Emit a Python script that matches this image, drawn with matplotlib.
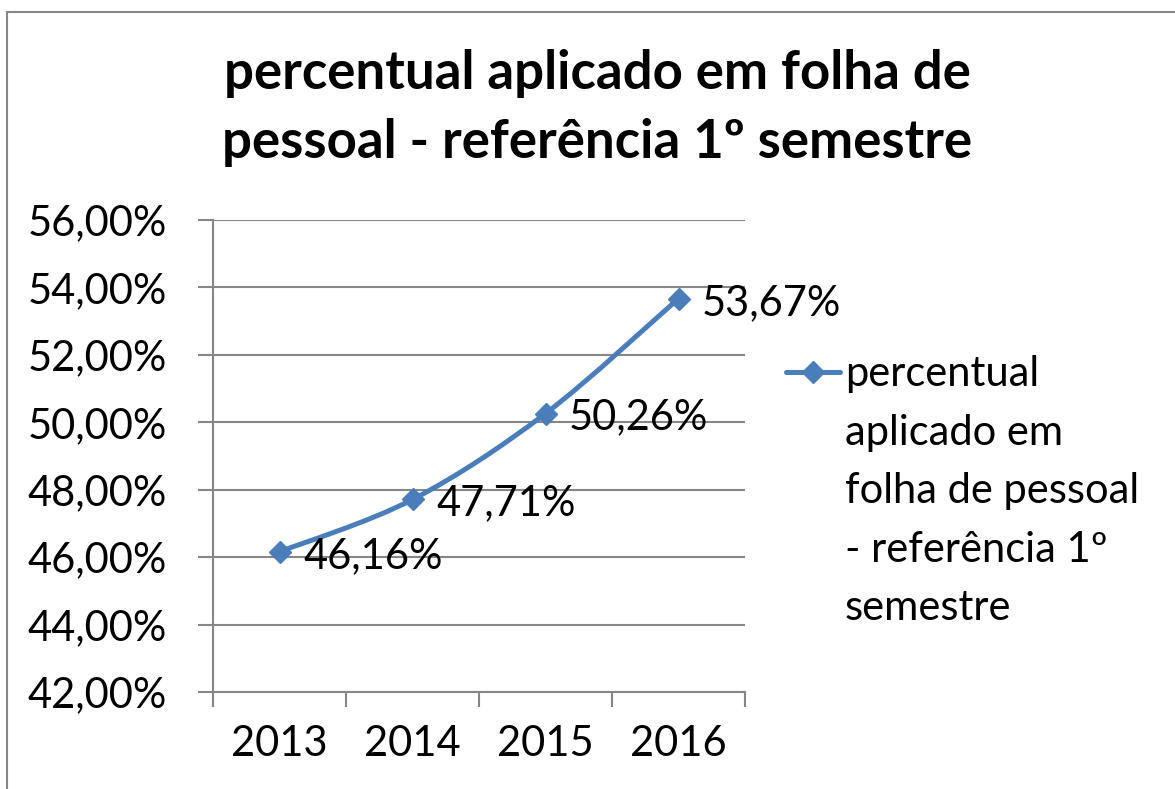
import numpy as np
import matplotlib.pyplot as plt
from matplotlib.path import Path
from matplotlib.patches import PathPatch, Rectangle
from matplotlib.lines import Line2D

plt.rcParams['font.family'] = ['Lato', 'DejaVu Sans']

anos = ['2013', '2014', '2015', '2016']
valores = [46.16, 47.71, 50.26, 53.67]
rotulos = ['46,16%', '47,71%', '50,26%', '53,67%']
yticks = [42, 44, 46, 48, 50, 52, 54, 56]
titulo = 'percentual aplicado em folha de\npessoal - referência 1º semestre'
serie = ['percentual', 'aplicado em', 'folha de pessoal', '- referência 1º', 'semestre']

cor = '#4A7EBB'
cinza = '#868686'
W, H = 1175, 789

fig = plt.figure(figsize=(11.75, 7.89), dpi=100)
fig.patches.append(Rectangle((7 / W, -0.1), 1.2, 1 - 12 / H + 0.1, transform=fig.transFigure,
                             fill=False, edgecolor=cinza, linewidth=1.5))

ax = fig.add_axes([213 / W, 1 - 692 / H, (745 - 213) / W, (692 - 220) / H])

x = np.arange(len(anos))
ax.set_xlim(-0.5, len(anos) - 0.5)
ax.set_ylim(42, 56)

# smooth line (Catmull-Rom as cubic bezier) through the data points
pts = np.column_stack([x, valores]).astype(float)
verts = [tuple(pts[0])]
codes = [Path.MOVETO]
for i in range(len(pts) - 1):
    p0 = pts[i - 1] if i > 0 else pts[i]
    p1 = pts[i]
    p2 = pts[i + 1]
    p3 = pts[i + 2] if i + 2 < len(pts) else pts[i + 1]
    c1 = p1 + (p2 - p0) / 6
    c2 = p2 - (p3 - p1) / 6
    verts += [tuple(c1), tuple(c2), tuple(p2)]
    codes += [Path.CURVE4] * 3
ax.add_patch(PathPatch(Path(verts, codes), facecolor='none', edgecolor=cor, linewidth=3.6,
                       capstyle='round', joinstyle='round', zorder=3))
ax.plot(x, valores, linestyle='none', marker='D', markersize=11, color=cor, zorder=4)

for xi, v, r in zip(x, valores, rotulos):
    ax.annotate(r, (xi, v), xytext=(17, -3), textcoords='offset points',
                ha='left', va='center', fontsize=30, color='black', zorder=5)

ax.set_yticks(yticks)
ax.set_yticklabels([f'{t},00%' for t in yticks], fontsize=30)
ax.yaxis.grid(True, color=cinza, linewidth=1.5)
ax.set_axisbelow(True)
ax.set_xticks(np.arange(len(anos) + 1) - 0.5)
ax.set_xticklabels([])
ax.set_xticks(x, minor=True)
ax.set_xticklabels(anos, minor=True, fontsize=30)
ax.tick_params(axis='x', which='minor', length=0, pad=24)
ax.tick_params(axis='x', which='major', length=11, width=1.5, color=cinza, direction='out')
ax.tick_params(axis='y', length=11, width=1.5, color=cinza, pad=22)
for s in ['top', 'right']:
    ax.spines[s].set_visible(False)
for s in ['left', 'bottom']:
    ax.spines[s].set_color(cinza)
    ax.spines[s].set_linewidth(1.5)

fig.text(597 / W, 1 - 108 / H, titulo, ha='center', va='center', fontsize=38,
         fontweight='bold', linespacing=1.5)

# legend drawn by hand so the marker sits on the first text line
fig.add_artist(Line2D([786 / W, 840 / W], [1 - 372 / H] * 2, transform=fig.transFigure,
                      color=cor, linewidth=3.6, solid_capstyle='round'))
fig.add_artist(Line2D([813 / W], [1 - 372 / H], transform=fig.transFigure,
                      color=cor, marker='D', markersize=11, linestyle='none'))
for i, linha in enumerate(serie):
    fig.text(845 / W, 1 - (374 + 58.5 * i) / H, linha, ha='left', va='center', fontsize=30)

fig.savefig('out.png', dpi=100)
